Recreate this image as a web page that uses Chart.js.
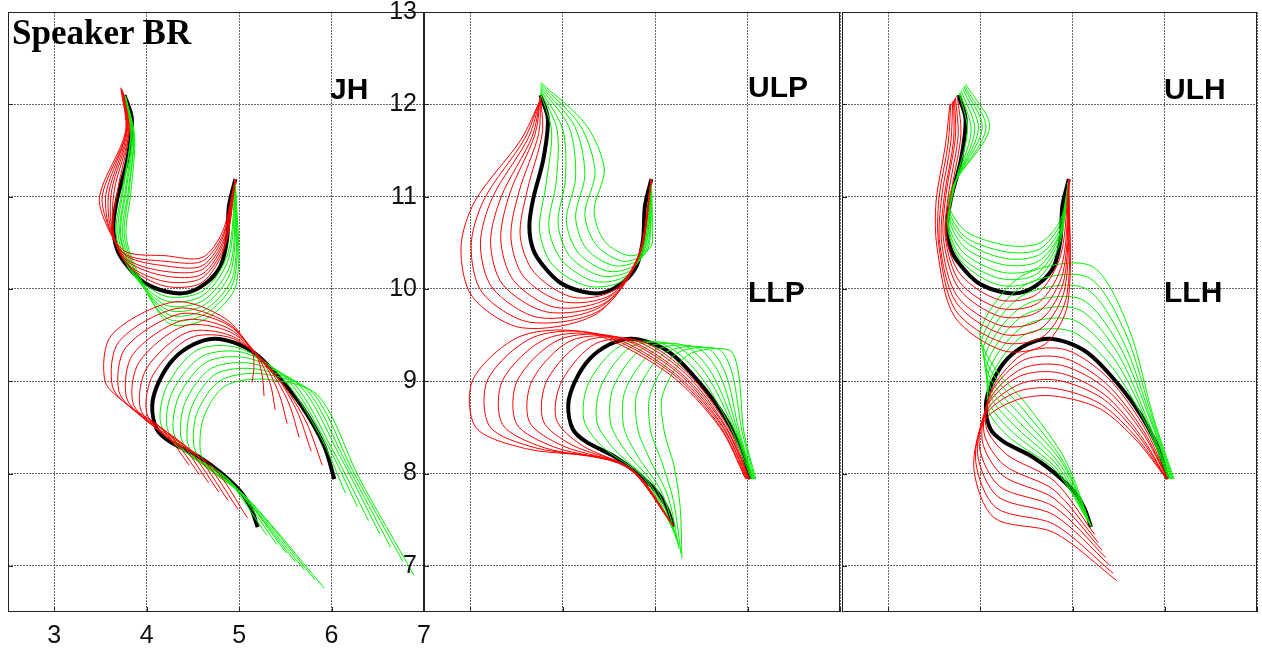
<!DOCTYPE html>
<html>
<head>
<meta charset="utf-8">
<title>Speaker BR</title>
<script src="https://cdn.jsdelivr.net/npm/chart.js@4.4.1/dist/chart.umd.min.js"></script>
<style>
  html, body { margin: 0; padding: 0; background: #fff; }
  body { position: relative; width: 1262px; height: 650px; overflow: hidden; }
  canvas { position: absolute; top: 0; }
  .lbl { position: absolute; z-index: 5; font-family: "Liberation Sans", Arial, sans-serif; font-weight: bold; font-size: 30px; line-height: 30px; color: #000; white-space: nowrap; }
  #speaker { font-family: "Liberation Serif", "Times New Roman", serif; font-size: 35px; line-height: 34px; left: 12px; top: 16px; }
</style>
</head>
<body>
<canvas id="p1" width="445" height="650" style="left:0px"></canvas>
<canvas id="p2" width="480" height="650" style="left:370px"></canvas>
<canvas id="p3" width="427" height="650" style="left:835px"></canvas>
<div class="lbl" id="speaker">Speaker BR</div>
<div class="lbl" style="left:330px;top:74px">JH</div>
<div class="lbl" style="left:748px;top:72px">ULP</div>
<div class="lbl" style="left:748px;top:277px">LLP</div>
<div class="lbl" style="left:1164px;top:74px">ULH</div>
<div class="lbl" style="left:1164px;top:277px">LLH</div>
<script>
"use strict";

let xTicks = [3, 4, 5, 6, 7];
let yTicks = [7, 8, 9, 10, 11, 12, 13];

// mean contours (black)
let blackUpX = [3.76, 3.84, 3.79, 3.68, 3.64, 3.68, 3.79, 3.97, 4.22, 4.44, 4.65, 4.80, 4.87, 4.89, 4.96];
let blackUpY = [12.10, 11.84, 11.40, 10.97, 10.68, 10.43, 10.25, 10.07, 9.97, 9.96, 10.07, 10.25, 10.54, 10.90, 11.19];
let blackLowX = [6.03, 5.92, 5.67, 5.38, 5.16, 4.94, 4.73, 4.51, 4.29, 4.13, 4.06, 4.11, 4.26, 4.55, 4.80, 5.02, 5.13, 5.20];
let blackLowY = [7.94, 8.30, 8.74, 9.10, 9.31, 9.42, 9.46, 9.40, 9.24, 8.99, 8.74, 8.48, 8.34, 8.19, 8.01, 7.80, 7.62, 7.42];

// each row = one point along the contour, one value per curve (a plain number = same for all curves)
// JH
let jhUpRedX = [
  [3.75, 3.75, 3.74, 3.74, 3.73, 3.73, 3.72],
  [3.81, 3.81, 3.80, 3.79, 3.78, 3.78, 3.77],
  [3.69, 3.65, 3.62, 3.59, 3.56, 3.52, 3.49],
  [3.64, 3.64, 3.63, 3.62, 3.61, 3.61, 3.60],
  [3.80, 3.79, 3.79, 3.79, 3.79, 3.78, 3.78],
  4.20, 4.60,
  [4.85, 4.85, 4.84, 4.84, 4.83, 4.83, 4.82],
  4.96];
let jhUpRedY = [
  [12.11, 12.12, 12.13, 12.15, 12.16, 12.17, 12.18],
  11.70,
  [11.09, 11.07, 11.06, 11.04, 11.03, 11.01, 11.00],
  [10.60, 10.61, 10.61, 10.61, 10.61, 10.62, 10.62],
  [10.25, 10.27, 10.30, 10.32, 10.35, 10.37, 10.40],
  [10.03, 10.08, 10.14, 10.19, 10.25, 10.30, 10.36],
  [10.07, 10.12, 10.16, 10.21, 10.25, 10.30, 10.34],
  [10.47, 10.50, 10.52, 10.55, 10.57, 10.60, 10.62],
  11.19];
let jhUpGreenX = [
  [3.76, 3.76, 3.76, 3.77, 3.77, 3.77, 3.77],
  [3.83, 3.83, 3.84, 3.85, 3.86, 3.86, 3.87],
  [3.74, 3.75, 3.77, 3.78, 3.80, 3.81, 3.83],
  [3.67, 3.69, 3.71, 3.72, 3.74, 3.76, 3.78],
  [3.83, 3.85, 3.88, 3.90, 3.93, 3.95, 3.98],
  [4.21, 4.21, 4.22, 4.23, 4.24, 4.24, 4.25],
  [4.61, 4.61, 4.62, 4.63, 4.64, 4.64, 4.65],
  [4.88, 4.89, 4.91, 4.92, 4.94, 4.95, 4.97],
  4.96];
let jhUpGreenY = [
  [12.10, 12.10, 12.09, 12.09, 12.09, 12.08, 12.08],
  [11.69, 11.69, 11.68, 11.67, 11.66, 11.66, 11.65],
  [11.09, 11.09, 11.08, 11.07, 11.06, 11.06, 11.05],
  [10.59, 10.59, 10.58, 10.57, 10.56, 10.56, 10.55],
  [10.19, 10.16, 10.13, 10.11, 10.08, 10.05, 10.02],
  [9.92, 9.87, 9.82, 9.77, 9.72, 9.67, 9.62],
  [9.98, 9.93, 9.88, 9.83, 9.78, 9.73, 9.68],
  [10.39, 10.34, 10.28, 10.22, 10.16, 10.11, 10.05],
  11.19];
let jhLowRedX = [
  [5.90, 5.78, 5.65, 5.52, 5.39, 5.27, 5.14],
  [5.71, 5.62, 5.53, 5.43, 5.34, 5.25, 5.16],
  [5.36, 5.33, 5.29, 5.25, 5.21, 5.18, 5.14],
  [4.94, 4.92, 4.91, 4.89, 4.88, 4.86, 4.85],
  [4.47, 4.44, 4.41, 4.39, 4.36, 4.33, 4.30],
  [4.07, 4.00, 3.92, 3.85, 3.77, 3.70, 3.62],
  [4.00, 3.93, 3.85, 3.78, 3.70, 3.63, 3.55],
  [4.23, 4.16, 4.09, 4.01, 3.94, 3.87, 3.80],
  [4.71, 4.61, 4.52, 4.43, 4.34, 4.24, 4.15],
  [5.09, 4.99, 4.88, 4.78, 4.67, 4.57, 4.46]];
let jhLowRedY = [
  [8.09, 8.24, 8.39, 8.54, 8.69, 8.84, 8.99],
  [8.59, 8.69, 8.78, 8.87, 8.96, 9.06, 9.15],
  [9.11, 9.15, 9.18, 9.22, 9.25, 9.29, 9.32],
  [9.46, 9.49, 9.53, 9.57, 9.61, 9.64, 9.68],
  [9.47, 9.53, 9.60, 9.66, 9.73, 9.79, 9.86],
  [9.07, 9.14, 9.21, 9.29, 9.36, 9.43, 9.50],
  [8.66, 8.71, 8.77, 8.83, 8.89, 8.94, 9.00],
  [8.38, 8.44, 8.50, 8.56, 8.62, 8.68, 8.74],
  [8.08, 8.15, 8.22, 8.29, 8.36, 8.43, 8.50],
  [7.52, 7.61, 7.71, 7.80, 7.90, 7.99, 8.09]];
let jhLowGreenX = [
  [6.15, 6.28, 6.40, 6.52, 6.64, 6.77, 6.89],
  [5.87, 5.94, 6.01, 6.09, 6.16, 6.23, 6.30],
  [5.46, 5.53, 5.59, 5.66, 5.72, 5.79, 5.85],
  [5.00, 5.05, 5.10, 5.15, 5.20, 5.25, 5.30],
  [4.55, 4.60, 4.65, 4.70, 4.75, 4.80, 4.85],
  [4.22, 4.28, 4.35, 4.42, 4.49, 4.55, 4.62],
  [4.15, 4.22, 4.29, 4.37, 4.44, 4.51, 4.58],
  [4.35, 4.41, 4.46, 4.52, 4.57, 4.63, 4.68],
  [4.84, 4.89, 4.93, 4.97, 5.01, 5.06, 5.10],
  [5.30, 5.41, 5.51, 5.61, 5.71, 5.82, 5.92]];
let jhLowGreenY = [
  [7.79, 7.64, 7.49, 7.35, 7.20, 7.05, 6.90],
  [8.42, 8.34, 8.26, 8.19, 8.11, 8.03, 7.95],
  [9.05, 9.01, 8.98, 8.95, 8.92, 8.88, 8.85],
  [9.36, 9.31, 9.25, 9.19, 9.13, 9.08, 9.02],
  [9.34, 9.27, 9.21, 9.14, 9.08, 9.01, 8.95],
  [8.95, 8.89, 8.84, 8.78, 8.73, 8.67, 8.62],
  [8.55, 8.50, 8.45, 8.40, 8.35, 8.30, 8.25],
  [8.28, 8.24, 8.20, 8.17, 8.13, 8.09, 8.05],
  [7.97, 7.93, 7.89, 7.84, 7.80, 7.76, 7.72],
  [7.33, 7.23, 7.14, 7.04, 6.95, 6.85, 6.76]];

// ULP / LLP
let ulpUpRedX = [
  3.76,
  [3.78, 3.74, 3.70, 3.67, 3.63, 3.59, 3.55],
  [3.62, 3.53, 3.43, 3.34, 3.24, 3.15, 3.05],
  [3.54, 3.44, 3.33, 3.22, 3.11, 3.01, 2.90],
  [3.69, 3.58, 3.47, 3.35, 3.24, 3.13, 3.02],
  [4.11, 4.01, 3.92, 3.83, 3.74, 3.64, 3.55],
  [4.56, 4.53, 4.49, 4.46, 4.42, 4.39, 4.35],
  [4.85, 4.84, 4.83, 4.83, 4.82, 4.81, 4.80],
  4.96];
let ulpUpRedY = [
  [12.09, 12.09, 12.08, 12.07, 12.06, 12.06, 12.05],
  [11.69, 11.68, 11.67, 11.65, 11.64, 11.63, 11.62],
  [11.08, 11.06, 11.04, 11.01, 10.99, 10.97, 10.95],
  [10.58, 10.56, 10.54, 10.51, 10.49, 10.47, 10.45],
  [10.18, 10.13, 10.09, 10.05, 10.01, 9.96, 9.92],
  [9.91, 9.86, 9.80, 9.75, 9.69, 9.64, 9.58],
  [9.99, 9.94, 9.90, 9.85, 9.81, 9.76, 9.72],
  [10.43, 10.41, 10.39, 10.36, 10.34, 10.32, 10.30],
  11.19];
let ulpUpGreenX = [
  3.76,
  [3.88, 3.94, 4.00, 4.07, 4.13, 4.19, 4.25],
  [3.82, 3.93, 4.03, 4.14, 4.24, 4.35, 4.45],
  [3.75, 3.85, 3.95, 4.04, 4.14, 4.24, 4.34],
  [3.89, 3.99, 4.08, 4.17, 4.26, 4.36, 4.45],
  [4.27, 4.35, 4.42, 4.50, 4.57, 4.65, 4.72],
  [4.65, 4.70, 4.75, 4.80, 4.85, 4.90, 4.95],
  [4.88, 4.89, 4.91, 4.92, 4.94, 4.95, 4.97],
  4.96];
let ulpUpGreenY = [
  [12.12, 12.14, 12.16, 12.18, 12.20, 12.22, 12.24],
  [11.71, 11.72, 11.73, 11.75, 11.76, 11.77, 11.78],
  [11.13, 11.16, 11.19, 11.21, 11.24, 11.27, 11.30],
  [10.64, 10.67, 10.71, 10.74, 10.78, 10.81, 10.85],
  [10.26, 10.31, 10.35, 10.39, 10.43, 10.48, 10.52],
  [10.03, 10.08, 10.14, 10.19, 10.25, 10.30, 10.36],
  [10.09, 10.15, 10.21, 10.27, 10.33, 10.39, 10.45],
  [10.48, 10.51, 10.54, 10.56, 10.59, 10.62, 10.65],
  11.19];
let llpRedX = [
  [6.02, 6.02, 6.01, 6.00, 6.00, 5.99, 5.98],
  [5.79, 5.77, 5.76, 5.74, 5.73, 5.71, 5.70],
  [5.36, 5.33, 5.29, 5.26, 5.22, 5.19, 5.15],
  [4.86, 4.76, 4.67, 4.58, 4.49, 4.39, 4.30],
  [4.36, 4.23, 4.09, 3.96, 3.82, 3.69, 3.55],
  [3.99, 3.83, 3.67, 3.51, 3.35, 3.19, 3.03],
  [3.93, 3.79, 3.64, 3.50, 3.35, 3.21, 3.06],
  [4.20, 4.10, 4.00, 3.90, 3.80, 3.70, 3.60],
  [4.78, 4.76, 4.74, 4.71, 4.69, 4.67, 4.65],
  5.20];
let llpRedY = [
  7.94, 8.50, 9.08,
  [9.43, 9.45, 9.46, 9.48, 9.49, 9.51, 9.52],
  [9.41, 9.43, 9.44, 9.45, 9.46, 9.48, 9.49],
  [9.00, 9.01, 9.01, 9.01, 9.01, 9.02, 9.02],
  [8.59, 8.57, 8.56, 8.54, 8.53, 8.51, 8.50],
  [8.31, 8.31, 8.30, 8.29, 8.28, 8.28, 8.27],
  [8.02, 8.04, 8.05, 8.06, 8.07, 8.09, 8.10],
  7.43];
let llpGreenX = [
  [6.04, 6.05, 6.06, 6.06, 6.07, 6.08, 6.09],
  [5.82, 5.85, 5.87, 5.89, 5.91, 5.94, 5.96],
  [5.47, 5.54, 5.61, 5.69, 5.76, 5.83, 5.90],
  [5.07, 5.19, 5.31, 5.44, 5.56, 5.68, 5.80],
  [4.62, 4.74, 4.86, 4.99, 5.11, 5.23, 5.35],
  [4.28, 4.42, 4.55, 4.68, 4.81, 4.95, 5.08],
  [4.23, 4.37, 4.52, 4.66, 4.81, 4.95, 5.10],
  [4.43, 4.56, 4.69, 4.81, 4.94, 5.07, 5.20],
  [4.87, 4.93, 5.00, 5.07, 5.14, 5.20, 5.27],
  [5.21, 5.23, 5.24, 5.25, 5.26, 5.28, 5.29]];
let llpGreenY = [
  7.94,
  [8.49, 8.49, 8.48, 8.47, 8.46, 8.46, 8.45],
  [9.08, 9.09, 9.09, 9.09, 9.09, 9.10, 9.10],
  [9.41, 9.40, 9.39, 9.37, 9.36, 9.35, 9.34],
  [9.38, 9.37, 9.35, 9.33, 9.31, 9.30, 9.28],
  [8.98, 8.96, 8.94, 8.91, 8.89, 8.87, 8.85],
  [8.58, 8.56, 8.54, 8.51, 8.49, 8.47, 8.45],
  [8.29, 8.26, 8.23, 8.19, 8.16, 8.13, 8.10],
  [7.96, 7.91, 7.86, 7.80, 7.75, 7.70, 7.65],
  [7.37, 7.32, 7.27, 7.23, 7.18, 7.13, 7.08]];

// ULH / LLH
let ulhUpRedX = [
  [3.75, 3.73, 3.72, 3.71, 3.70, 3.68, 3.67],
  [3.79, 3.76, 3.73, 3.71, 3.68, 3.65, 3.62],
  [3.69, 3.66, 3.63, 3.61, 3.58, 3.55, 3.52],
  [3.63, 3.62, 3.60, 3.58, 3.56, 3.55, 3.53],
  [3.79, 3.78, 3.77, 3.75, 3.74, 3.73, 3.72],
  [4.21, 4.21, 4.22, 4.23, 4.24, 4.24, 4.25],
  [4.61, 4.63, 4.64, 4.66, 4.67, 4.69, 4.70],
  [4.87, 4.89, 4.90, 4.91, 4.92, 4.94, 4.95],
  4.96];
let ulhUpRedY = [
  [12.09, 12.07, 12.06, 12.04, 12.03, 12.01, 12.00],
  [11.68, 11.66, 11.64, 11.61, 11.59, 11.57, 11.55],
  [11.08, 11.06, 11.04, 11.01, 10.99, 10.97, 10.95],
  [10.58, 10.56, 10.54, 10.51, 10.49, 10.47, 10.45],
  [10.15, 10.07, 10.00, 9.92, 9.85, 9.77, 9.70],
  [9.88, 9.79, 9.70, 9.60, 9.51, 9.42, 9.33],
  [9.94, 9.85, 9.76, 9.67, 9.58, 9.49, 9.40],
  [10.36, 10.28, 10.19, 10.11, 10.02, 9.94, 9.85],
  11.19];
let ulhUpGreenX = [
  [3.77, 3.78, 3.79, 3.81, 3.82, 3.83, 3.84],
  [3.86, 3.90, 3.94, 3.98, 4.02, 4.06, 4.10],
  3.72,
  [3.65, 3.65, 3.65, 3.66, 3.66, 3.66, 3.66],
  [3.81, 3.81, 3.82, 3.83, 3.84, 3.84, 3.85],
  [4.21, 4.23, 4.24, 4.26, 4.27, 4.29, 4.30],
  [4.61, 4.61, 4.62, 4.63, 4.64, 4.64, 4.65],
  [4.86, 4.86, 4.86, 4.87, 4.87, 4.87, 4.87],
  4.96];
let ulhUpGreenY = [
  [12.12, 12.13, 12.15, 12.17, 12.19, 12.20, 12.22],
  [11.71, 11.71, 11.72, 11.73, 11.74, 11.74, 11.75],
  [11.11, 11.11, 11.12, 11.13, 11.14, 11.14, 11.15],
  [10.64, 10.69, 10.73, 10.77, 10.81, 10.86, 10.90],
  [10.28, 10.33, 10.39, 10.45, 10.51, 10.56, 10.62],
  [10.04, 10.11, 10.18, 10.26, 10.33, 10.40, 10.47],
  [10.10, 10.16, 10.23, 10.30, 10.37, 10.43, 10.50],
  [10.49, 10.54, 10.58, 10.62, 10.66, 10.71, 10.75],
  11.19];
let llhRedX = [
  [6.03, 6.03, 6.03, 6.02, 6.02, 6.02, 6.02],
  [5.79, 5.77, 5.76, 5.74, 5.73, 5.71, 5.70],
  [5.39, 5.37, 5.36, 5.34, 5.33, 5.31, 5.30],
  [4.93, 4.91, 4.89, 4.86, 4.84, 4.82, 4.80],
  [4.49, 4.47, 4.46, 4.44, 4.43, 4.41, 4.40],
  [4.14, 4.12, 4.11, 4.09, 4.08, 4.06, 4.05],
  [4.06, 4.04, 4.02, 3.99, 3.97, 3.95, 3.93],
  [4.28, 4.26, 4.24, 4.21, 4.19, 4.17, 4.15],
  4.80,
  [5.24, 5.28, 5.32, 5.36, 5.40, 5.44, 5.48]];
let llhRedY = [
  7.94,
  [8.48, 8.46, 8.44, 8.41, 8.39, 8.37, 8.35],
  [9.03, 8.97, 8.92, 8.86, 8.81, 8.75, 8.70],
  [9.34, 9.25, 9.17, 9.09, 9.01, 8.92, 8.84],
  [9.31, 9.23, 9.14, 9.06, 8.97, 8.89, 8.80],
  [8.94, 8.88, 8.82, 8.76, 8.70, 8.64, 8.58],
  [8.52, 8.44, 8.36, 8.29, 8.21, 8.13, 8.05],
  [8.21, 8.09, 7.98, 7.86, 7.75, 7.63, 7.52],
  [7.92, 7.82, 7.73, 7.64, 7.55, 7.45, 7.36],
  [7.34, 7.25, 7.17, 7.09, 7.01, 6.92, 6.84]];
let llhGreenX = [
  [6.04, 6.05, 6.06, 6.07, 6.08, 6.09, 6.10],
  [5.81, 5.82, 5.83, 5.85, 5.86, 5.87, 5.88],
  [5.43, 5.46, 5.49, 5.51, 5.54, 5.57, 5.60],
  [4.99, 5.02, 5.06, 5.09, 5.13, 5.16, 5.20],
  [4.49, 4.49, 4.48, 4.47, 4.46, 4.46, 4.45],
  [4.13, 4.11, 4.09, 4.06, 4.04, 4.02, 4.00],
  [4.09, 4.10, 4.11, 4.12, 4.13, 4.14, 4.15],
  [4.33, 4.36, 4.39, 4.41, 4.44, 4.47, 4.50],
  [4.82, 4.83, 4.85, 4.87, 4.89, 4.90, 4.92],
  5.20];
let llhGreenY = [
  7.94,
  [8.51, 8.53, 8.54, 8.56, 8.57, 8.59, 8.60],
  [9.15, 9.23, 9.30, 9.38, 9.45, 9.53, 9.60],
  [9.54, 9.66, 9.78, 9.89, 10.01, 10.13, 10.25],
  [9.51, 9.61, 9.72, 9.82, 9.93, 10.03, 10.14],
  [9.08, 9.16, 9.24, 9.31, 9.39, 9.47, 9.55],
  [8.68, 8.76, 8.84, 8.91, 8.99, 9.07, 9.15],
  [8.38, 8.44, 8.50, 8.57, 8.63, 8.69, 8.75],
  [8.03, 8.05, 8.07, 8.09, 8.11, 8.13, 8.15],
  7.43];

const RED = "#ff0000";
const GREEN = "#00f000";
const GRID = "#666";

function curvesFrom(xs, ys) {
  let out = [];
  for (let k = 0; k < 7; k++) {
    out.push(xs.map((col, i) => ({
      x: Array.isArray(col) ? col[k] : col,
      y: Array.isArray(ys[i]) ? ys[i][k] : ys[i],
    })));
  }
  return out;
}

function line(points, color, width, tension) {
  return {
    data: points,
    showLine: true,
    borderColor: color,
    borderWidth: width,
    pointRadius: 0,
    pointHoverRadius: 0,
    tension: tension,
    fill: false,
  };
}

function buildDatasets(fam) {
  let ds = [];
  curvesFrom(fam.upRed[0], fam.upRed[1]).forEach(c => ds.push(line(c, RED, 1, 0.3)));
  curvesFrom(fam.lowRed[0], fam.lowRed[1]).forEach(c => ds.push(line(c, RED, 1, 0.3)));
  curvesFrom(fam.upGreen[0], fam.upGreen[1]).forEach(c => ds.push(line(c, GREEN, 1, 0.3)));
  curvesFrom(fam.lowGreen[0], fam.lowGreen[1]).forEach(c => ds.push(line(c, GREEN, 1, 0.3)));
  let up = blackUpX.map((x, i) => ({ x: x, y: blackUpY[i] }));
  let low = blackLowX.map((x, i) => ({ x: x, y: blackLowY[i] }));
  ds.push(line(up, "#000", 4, 0.3));
  ds.push(line(low, "#000", 4, 0.3));
  return ds;
}

// frame round the plot + small inward ticks
const framePlugin = {
  id: "frame",
  afterDraw(chart) {
    let ctx = chart.ctx;
    let a = chart.chartArea;
    let sx = chart.scales.x;
    let sy = chart.scales.y;
    ctx.save();
    ctx.strokeStyle = "#222";
    ctx.lineWidth = 1;
    ctx.strokeRect(Math.round(a.left) + 0.5, Math.round(a.top) + 0.5,
      Math.round(a.right - a.left) - 1, Math.round(a.bottom - a.top) - 1);
    ctx.beginPath();
    yTicks.forEach(v => {
      let py = Math.round(sy.getPixelForValue(v)) + 0.5;
      ctx.moveTo(a.left, py);
      ctx.lineTo(a.left + 5, py);
    });
    xTicks.forEach(v => {
      let px = Math.round(sx.getPixelForValue(v)) + 0.5;
      ctx.moveTo(px, a.bottom);
      ctx.lineTo(px, a.bottom - 5);
    });
    ctx.stroke();
    ctx.restore();
  },
};

function makePanel(id, fam, opt) {
  let tickFont = { family: "'Liberation Sans', Arial, sans-serif", size: 25 };
  return new Chart(document.getElementById(id), {
    type: "scatter",
    data: { datasets: buildDatasets(fam) },
    plugins: [framePlugin],
    options: {
      responsive: false,
      animation: false,
      devicePixelRatio: 1,
      layout: { padding: opt.padding },
      plugins: { legend: { display: false }, tooltip: { enabled: false } },
      scales: {
        x: {
          type: "linear",
          min: 2.5,
          max: 7,
          afterBuildTicks: s => { s.ticks = xTicks.map(v => ({ value: v })); },
          afterFit: s => { s.height = opt.xHeight; s.paddingLeft = 0; s.paddingRight = 0; },
          grid: { color: GRID, lineWidth: 1, drawTicks: false },
          border: { display: false, dash: [2, 1] },
          ticks: { display: opt.xLabels, autoSkip: false, maxRotation: 0, padding: 9, color: "#111", font: tickFont },
        },
        y: {
          type: "linear",
          min: 6.5,
          max: 13,
          afterBuildTicks: s => { s.ticks = yTicks.map(v => ({ value: v })); },
          afterFit: s => { s.width = opt.yWidth; s.paddingTop = 0; s.paddingBottom = 0; },
          grid: { color: GRID, lineWidth: 1, drawTicks: false },
          border: { display: false, dash: [2, 1] },
          ticks: { display: opt.yLabels, autoSkip: false, padding: 7, color: "#111", font: tickFont },
        },
      },
    },
  });
}

makePanel("p1", {
  upRed: [jhUpRedX, jhUpRedY], upGreen: [jhUpGreenX, jhUpGreenY],
  lowRed: [jhLowRedX, jhLowRedY], lowGreen: [jhLowGreenX, jhLowGreenY],
}, { padding: { left: 8, top: 12, right: 21, bottom: 0 }, xHeight: 38, yWidth: 0, xLabels: true, yLabels: false });

makePanel("p2", {
  upRed: [ulpUpRedX, ulpUpRedY], upGreen: [ulpUpGreenX, ulpUpGreenY],
  lowRed: [llpRedX, llpRedY], lowGreen: [llpGreenX, llpGreenY],
}, { padding: { left: 0, top: 12, right: 10, bottom: 38 }, xHeight: 0, yWidth: 54, xLabels: false, yLabels: true });

makePanel("p3", {
  upRed: [ulhUpRedX, ulhUpRedY], upGreen: [ulhUpGreenX, ulhUpGreenY],
  lowRed: [llhRedX, llhRedY], lowGreen: [llhGreenX, llhGreenY],
}, { padding: { left: 7, top: 12, right: 5, bottom: 38 }, xHeight: 0, yWidth: 0, xLabels: false, yLabels: false });
</script>
</body>
</html>
